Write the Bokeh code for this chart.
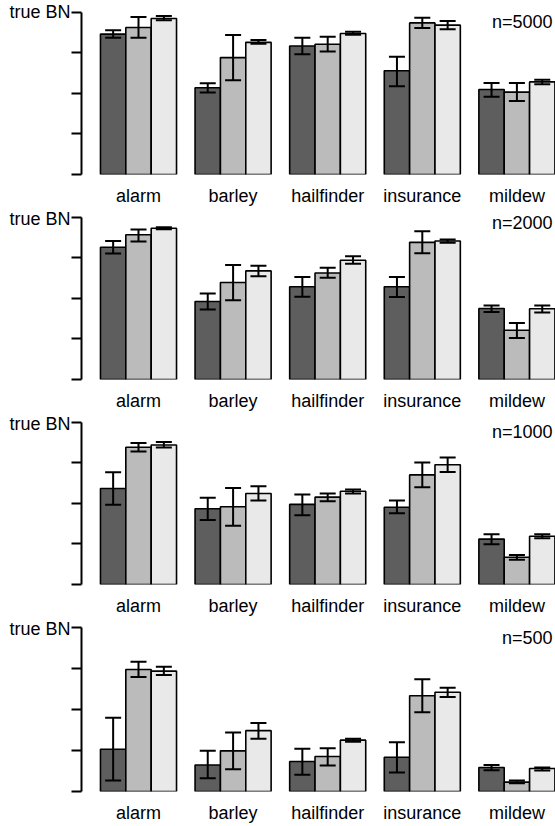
from bokeh.plotting import figure
from bokeh.layouts import column
from bokeh.models import (Range1d, FixedTicker, CustomJSTickFormatter,
                          ColumnDataSource, Whisker, TeeHead)
from bokeh.embed import file_html
from bokeh.resources import INLINE
from bokeh.core.properties import value

# ---------------- data ----------------
networks = ["alarm", "barley", "hailfinder", "insurance", "mildew"]
panel_labels = ["n=5000", "n=2000", "n=1000", "n=500"]
y_ticks = [0, 0.25, 0.5, 0.75, 1.0]
y_top_label = "true BN"

# n = 5000
m5000_dark = [0.866, 0.535, 0.793, 0.640, 0.524]
m5000_mid = [0.907, 0.721, 0.803, 0.935, 0.508]
m5000_light = [0.962, 0.815, 0.870, 0.921, 0.571]
lo5000_dark = [0.843, 0.506, 0.742, 0.545, 0.480]
hi5000_dark = [0.890, 0.563, 0.843, 0.727, 0.565]
lo5000_mid = [0.843, 0.581, 0.758, 0.904, 0.453]
hi5000_mid = [0.971, 0.860, 0.849, 0.967, 0.565]
lo5000_light = [0.951, 0.807, 0.862, 0.896, 0.557]
hi5000_light = [0.977, 0.829, 0.880, 0.947, 0.585]

# n = 2000
m2000_dark = [0.816, 0.481, 0.572, 0.572, 0.438]
m2000_mid = [0.893, 0.598, 0.657, 0.846, 0.304]
m2000_light = [0.933, 0.670, 0.736, 0.854, 0.436]
lo2000_dark = [0.777, 0.432, 0.511, 0.509, 0.416]
hi2000_dark = [0.854, 0.530, 0.633, 0.633, 0.456]
lo2000_mid = [0.852, 0.489, 0.627, 0.779, 0.256]
hi2000_mid = [0.925, 0.706, 0.690, 0.915, 0.349]
lo2000_light = [0.927, 0.637, 0.714, 0.844, 0.414]
hi2000_light = [0.939, 0.702, 0.761, 0.864, 0.456]

# n = 1000
m1000_dark = [0.592, 0.467, 0.494, 0.477, 0.280]
m1000_mid = [0.847, 0.480, 0.539, 0.676, 0.168]
m1000_light = [0.861, 0.561, 0.575, 0.739, 0.298]
lo1000_dark = [0.492, 0.398, 0.427, 0.439, 0.249]
hi1000_dark = [0.692, 0.535, 0.555, 0.518, 0.310]
lo1000_mid = [0.820, 0.363, 0.514, 0.600, 0.153]
hi1000_mid = [0.873, 0.596, 0.561, 0.753, 0.182]
lo1000_light = [0.845, 0.518, 0.561, 0.694, 0.286]
hi1000_light = [0.879, 0.606, 0.586, 0.783, 0.310]

# n = 500
m500_dark = [0.258, 0.162, 0.183, 0.209, 0.146]
m500_mid = [0.744, 0.248, 0.213, 0.584, 0.057]
m500_light = [0.734, 0.371, 0.313, 0.605, 0.140]
lo500_dark = [0.067, 0.081, 0.102, 0.116, 0.130]
hi500_dark = [0.450, 0.248, 0.260, 0.300, 0.162]
lo500_mid = [0.698, 0.136, 0.158, 0.483, 0.051]
hi500_mid = [0.791, 0.359, 0.264, 0.684, 0.067]
lo500_light = [0.710, 0.322, 0.304, 0.576, 0.128]
hi500_light = [0.760, 0.418, 0.321, 0.633, 0.146]

panels = [
    ([m5000_dark, m5000_mid, m5000_light],
     [lo5000_dark, lo5000_mid, lo5000_light],
     [hi5000_dark, hi5000_mid, hi5000_light]),
    ([m2000_dark, m2000_mid, m2000_light],
     [lo2000_dark, lo2000_mid, lo2000_light],
     [hi2000_dark, hi2000_mid, hi2000_light]),
    ([m1000_dark, m1000_mid, m1000_light],
     [lo1000_dark, lo1000_mid, lo1000_light],
     [hi1000_dark, hi1000_mid, hi1000_light]),
    ([m500_dark, m500_mid, m500_light],
     [lo500_dark, lo500_mid, lo500_light],
     [hi500_dark, hi500_mid, hi500_light]),
]

# ---------------- style ----------------
FONT = "Liberation Sans"
FSIZE = "18px"
bar_colors = ["#5e5e5e", "#bbbbbb", "#e9e9e9"]
bar_w = 0.268
offsets = [-bar_w, 0.0, bar_w]
DATA_H = 164                     # pixels between 0 and "true BN"
head_room = [12, 9, 9, 9]        # pixels of frame above the "true BN" tick
bottoms = [32, 32, 32, 35]
label_dy = [10, 6, 10, 10]
X0, X1 = -0.6025, 4.408

figs = []
for k, (means, los, his) in enumerate(panels):
    h = head_room[k] + DATA_H + bottoms[k]
    p = figure(width=555, height=h,
               x_range=Range1d(X0, X1),
               y_range=Range1d(0, 1 + head_room[k] / DATA_H),
               output_backend="svg", toolbar_location=None,
               min_border_left=81, min_border_right=0,
               min_border_top=0, min_border_bottom=bottoms[k])
    p.outline_line_color = None
    p.grid.visible = False
    p.background_fill_color = "white"

    for j in range(3):
        xs = [g + offsets[j] for g in range(len(networks))]
        src = ColumnDataSource(dict(x=xs, top=means[j], lo=los[j], hi=his[j]))
        p.vbar(x="x", top="top", bottom=0, width=bar_w, source=src,
               fill_color=bar_colors[j], line_color="black", line_width=1.6)
        wh = Whisker(base="x", upper="hi", lower="lo", source=src,
                     line_color="black", line_width=2, level="overlay",
                     upper_head=TeeHead(size=16, line_color="black", line_width=2),
                     lower_head=TeeHead(size=16, line_color="black", line_width=2))
        p.add_layout(wh)

    # sample size label
    p.text(x=[X1], y=[1 - label_dy[k] / DATA_H], text=[panel_labels[k]],
           x_offset=-3, text_align="right", text_baseline="middle",
           text_font=value(FONT), text_font_size=FSIZE, text_color="black")

    # y axis: line from 0 to "true BN"
    ya = p.yaxis[0]
    ya.bounds = (y_ticks[0], y_ticks[-1])
    ya.ticker = FixedTicker(ticks=y_ticks)
    ya.formatter = CustomJSTickFormatter(args=dict(lab=y_top_label),
                                         code="return tick >= 0.999 ? lab : '';")
    ya.major_tick_out = 10
    ya.major_tick_in = 0
    ya.minor_tick_line_color = None
    ya.axis_line_width = 2
    ya.major_tick_line_width = 2
    ya.major_label_standoff = 1
    ya.major_label_text_font = FONT
    ya.major_label_text_font_size = FSIZE
    ya.major_label_text_color = "black"

    # x axis: network names under the groups
    xa = p.xaxis[0]
    xa.ticker = FixedTicker(ticks=list(range(len(networks))))
    xa.formatter = CustomJSTickFormatter(args=dict(names=networks),
                                         code="return names[Math.round(tick)];")
    xa.axis_line_color = None
    xa.major_tick_line_color = None
    xa.minor_tick_line_color = None
    xa.major_tick_out = 0
    xa.major_tick_in = 0
    xa.major_label_standoff = 11
    xa.major_label_text_font = FONT
    xa.major_label_text_font_size = FSIZE
    xa.major_label_text_color = "black"
    figs.append(p)

layout = column(*figs, spacing=0)
open("out.html", "w").write(file_html(layout, INLINE))
